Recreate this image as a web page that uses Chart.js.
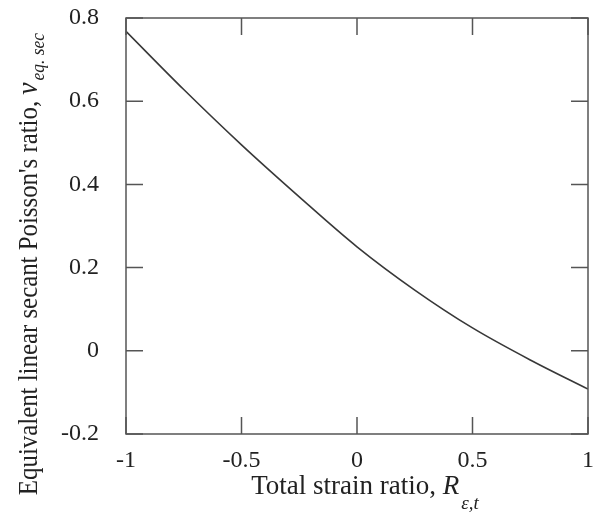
<!DOCTYPE html>
<html lang="en">
  <head>
    <meta charset="UTF-8" />
    <title>Equivalent linear secant Poisson's ratio</title>
    <style>
      html, body { margin: 0; padding: 0; background: #fff; }
      .chart-container { position: relative; width: 605px; height: 514px; }
    </style>
  </head>
  <body>
    <div class="chart-container">
      <canvas id="myChart"></canvas>
    </div>

    <script src="https://cdn.jsdelivr.net/npm/chart.js"></script>

    <script>
      // values
      const strainRatio = [-1, -0.75, -0.5, -0.25, 0, 0.25, 0.5, 0.75, 1];
      const poissonRatio = [0.768, 0.628, 0.495, 0.37, 0.25, 0.146, 0.055, -0.022, -0.092];
      const xTicks = [-1, -0.5, 0, 0.5, 1];
      const yTicks = [-0.2, 0, 0.2, 0.4, 0.6, 0.8];

      const serif = "'Liberation Serif', 'DejaVu Serif', serif";
      const ink = "#222";
      const frame = "#555";

      // inward ticks on all four sides + the mixed-style axis titles
      const framePlugin = {
        id: "frame",
        afterDraw(chart) {
          const c = chart.ctx;
          const a = chart.chartArea;
          const xs = chart.scales.x;
          const ys = chart.scales.y;
          const len = 17;
          c.save();
          c.strokeStyle = frame;
          c.lineWidth = 1.5;
          c.strokeRect(a.left, a.top, a.right - a.left, a.bottom - a.top);
          c.beginPath();
          xTicks.forEach((v) => {
            const px = xs.getPixelForValue(v);
            c.moveTo(px, a.bottom);
            c.lineTo(px, a.bottom - len);
            c.moveTo(px, a.top);
            c.lineTo(px, a.top + len);
          });
          yTicks.forEach((v) => {
            const py = ys.getPixelForValue(v);
            c.moveTo(a.left, py);
            c.lineTo(a.left + len, py);
            c.moveTo(a.right, py);
            c.lineTo(a.right - len, py);
          });
          c.stroke();

          c.fillStyle = ink;
          c.textBaseline = "alphabetic";

          // x title
          const xMain = "Total strain ratio, ";
          c.font = "27px " + serif;
          const wMain = c.measureText(xMain).width;
          c.font = "italic 27px " + serif;
          const wR = c.measureText("R").width;
          c.font = "italic 19px " + serif;
          const wSub = c.measureText("ε,t").width;
          const x0 = 364 - (wMain + wR + wSub) / 2;
          const yb = 494;
          c.font = "27px " + serif;
          c.fillText(xMain, x0, yb);
          c.font = "italic 27px " + serif;
          c.fillText("R", x0 + wMain, yb);
          c.font = "italic 19px " + serif;
          c.fillText("ε,t", x0 + wMain + wR + 2, yb + 15);

          // y title (rotated, squeezed along its length like the scan)
          c.translate(37, 265);
          c.rotate(-Math.PI / 2);
          c.scale(0.92, 1);
          const yMain = "Equivalent linear secant Poisson's ratio, ";
          c.font = "27px " + serif;
          const wy = c.measureText(yMain).width;
          c.font = "italic 30px " + serif;
          const wNu = c.measureText("ν").width;
          c.font = "italic 19px " + serif;
          const wys = c.measureText("eq. sec").width;
          const total = wy + wNu + wys;
          const s = -total / 2;
          c.font = "27px " + serif;
          c.fillText(yMain, s, 0);
          c.font = "italic 30px " + serif;
          c.fillText("ν", s + wy, 0);
          c.font = "italic 19px " + serif;
          c.fillText("eq. sec", s + wy + wNu + 2, 7);
          c.restore();
        },
      };

      const ctx = document.getElementById("myChart").getContext("2d");
      new Chart(ctx, {
        type: "line",
        data: {
          datasets: [
            {
              data: strainRatio.map((x, i) => ({ x: x, y: poissonRatio[i] })),
              borderColor: "#383838",
              borderWidth: 1.6,
              pointRadius: 0,
              cubicInterpolationMode: "monotone",
              fill: false,
            },
          ],
        },
        options: {
          responsive: true,
          maintainAspectRatio: false,
          animation: false,
          layout: { padding: { left: 0, right: 17, top: 18, bottom: 0 } },
          plugins: {
            legend: { display: false },
            tooltip: { enabled: false },
          },
          scales: {
            x: {
              type: "linear",
              min: -1,
              max: 1,
              afterBuildTicks: (s) => { s.ticks = xTicks.map((v) => ({ value: v })); },
              afterFit: (s) => {
                s.height = 80;
                s.paddingLeft = 0;
                s.paddingRight = 0;
              },
              grid: { display: false },
              border: { display: false },
              ticks: {
                color: ink,
                font: { family: serif, size: 24 },
                padding: 4,
                maxRotation: 0,
                callback: (v) => String(v),
              },
            },
            y: {
              min: -0.2,
              max: 0.8,
              afterBuildTicks: (s) => { s.ticks = yTicks.map((v) => ({ value: v })); },
              afterFit: (s) => {
                s.width = 126;
                s.paddingTop = 0;
                s.paddingBottom = 0;
              },
              grid: { display: false },
              border: { display: false },
              ticks: {
                color: ink,
                font: { family: serif, size: 24 },
                padding: 19,
                callback: (v) => String(Math.round(v * 10) / 10),
              },
            },
          },
        },
        plugins: [framePlugin],
      });
    </script>
  </body>
</html>
